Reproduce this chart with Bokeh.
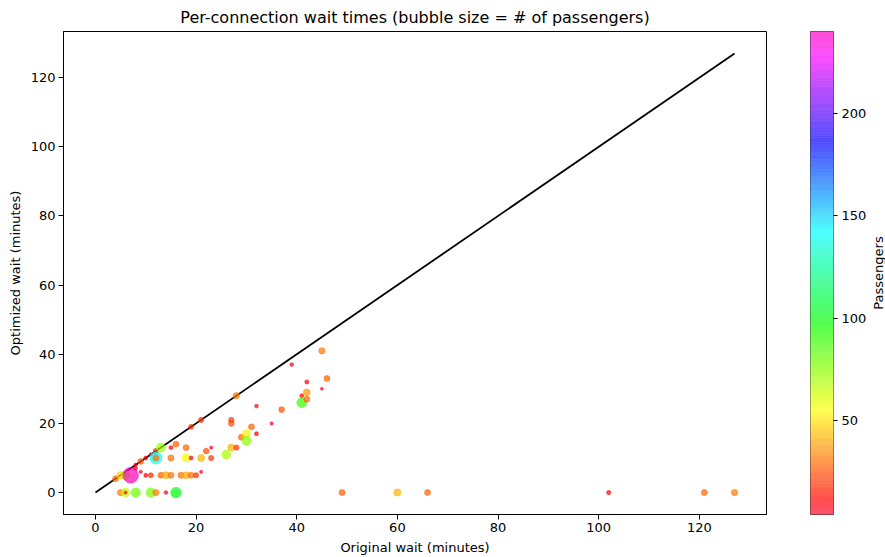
import numpy as np
from bokeh.plotting import figure
from bokeh.layouts import row
from bokeh.models import (ColumnDataSource, LinearColorMapper, FixedTicker, Range1d)
from bokeh.embed import file_html
from bokeh.resources import INLINE

# ---------------- data ----------------
orig_wait = [5, 6, 6, 8, 11, 12, 14, 16, 49, 60, 66, 102, 121, 127,
             4, 5, 6, 7, 9, 10, 11, 13, 14, 15, 17, 18, 19, 20, 21,
             8, 8, 9, 10, 11, 12, 13, 12, 12,
             15, 16, 18, 15, 18, 19, 21, 23, 22, 23,
             19, 21, 26, 27, 28, 27, 27, 28,
             29, 30, 30, 31, 32, 32, 35, 37, 39,
             41, 41, 42, 42, 42, 45, 45, 46]
opt_wait = [0, 0, 0, 0, 0, 0, 0, 0, 0, 0, 0, 0, 0, 0,
            4, 5, 5, 5, 6, 5, 5, 5, 5, 5, 5, 5, 5, 5, 6,
            7, 8, 9, 10, 11, 12, 13, 10, 10,
            13, 14, 13, 10, 10, 10, 10, 10, 12, 13,
            19, 21, 11, 13, 13, 20, 21, 28,
            16, 17, 15, 19, 17, 25, 20, 24, 37,
            28, 26, 27, 29, 32, 30, 41, 33]
passengers = [32, 65, 5, 80, 78, 32, 8, 100, 28, 42, 28, 12, 28, 32,
              30, 48, 70, 240, 6, 10, 18, 28, 40, 30, 30, 40, 30, 20, 5,
              8, 8, 25, 10, 7, 20, 72, 140, 30,
              10, 28, 28, 30, 55, 10, 42, 20, 25, 5,
              18, 20, 70, 42, 20, 25, 22, 32,
              28, 52, 75, 28, 10, 8, 5, 25, 8,
              10, 88, 28, 38, 10, 4, 32, 28]

cbar_ticks = [50, 100, 150, 200]
axis_ticks = [0, 20, 40, 60, 80, 100, 120]

# ---------------- gist_rainbow palette ----------------
seg = [(0.000, (1.00, 0.00, 0.16)), (0.030, (1.00, 0.00, 0.00)),
       (0.215, (1.00, 1.00, 0.00)), (0.400, (0.00, 1.00, 0.00)),
       (0.586, (0.00, 1.00, 1.00)), (0.770, (0.00, 0.00, 1.00)),
       (0.954, (1.00, 0.00, 1.00)), (1.000, (1.00, 0.00, 0.75))]
pos = [s[0] for s in seg]
tt = np.linspace(0, 1, 256)
rr = np.interp(tt, pos, [s[1][0] for s in seg])
gg = np.interp(tt, pos, [s[1][1] for s in seg])
bb = np.interp(tt, pos, [s[1][2] for s in seg])
palette = ["#%02x%02x%02x" % (int(round(a * 255)), int(round(b * 255)), int(round(c * 255)))
           for a, b, c in zip(rr, gg, bb)]
ALPHA = 0.7
# same colours pre-blended on white (for the opaque colour bar strip)
palette_bar = ["#%02x%02x%02x" % tuple(int(round((ALPHA * v + (1 - ALPHA)) * 255)) for v in (a, b, c))
               for a, b, c in zip(rr, gg, bb)]

low, high = min(passengers), max(passengers)
mapper = LinearColorMapper(palette=palette, low=low, high=high)

sizes = [1.389 * np.sqrt(0.45 * p) + 1.0 for p in passengers]
src = ColumnDataSource(dict(x=orig_wait, y=opt_wait, p=passengers, s=sizes))

lim = max(max(orig_wait), max(opt_wait))
pad = lim * 0.05

FONT = "DejaVu Sans"

# ---------------- main scatter ----------------
p = figure(width=810, height=557, output_backend="svg", toolbar_location=None,
           x_range=Range1d(-pad, lim + pad), y_range=Range1d(-pad, lim + pad),
           min_border_left=63, min_border_right=44, min_border_top=31, min_border_bottom=39,
           title="Per-connection wait times (bubble size = # of passengers)")

p.title.align = "center"
p.title.text_font = FONT
p.title.text_font_size = "16px"
p.title.text_font_style = "normal"
p.title.text_color = "black"

p.xgrid.visible = False
p.ygrid.visible = False
p.outline_line_color = "black"
p.outline_line_width = 1
p.background_fill_color = "white"
p.border_fill_color = "white"

for ax in (p.xaxis[0], p.yaxis[0]):
    ax.ticker = FixedTicker(ticks=axis_ticks)
    ax.major_tick_in = 0
    ax.major_tick_out = 5
    ax.minor_tick_line_color = None
    ax.axis_line_color = "black"
    ax.major_tick_line_color = "black"
    ax.major_label_text_font = FONT
    ax.major_label_text_font_size = "13px"
    ax.major_label_text_color = "black"
    ax.axis_label_text_font = FONT
    ax.axis_label_text_font_size = "13px"
    ax.axis_label_text_font_style = "normal"
    ax.axis_label_text_color = "black"
    ax.major_label_standoff = 3
    ax.axis_label_standoff = 5

p.xaxis.axis_label = "Original wait (minutes)"
p.yaxis.axis_label = "Optimized wait (minutes)"

p.line([0, lim], [0, lim], line_color="black", line_width=1.8)

p.scatter("x", "y", source=src, size="s",
          fill_color={"field": "p", "transform": mapper}, fill_alpha=ALPHA,
          line_color={"field": "p", "transform": mapper}, line_alpha=ALPHA, line_width=0.8)

# ---------------- colour bar (own small figure) ----------------
edges = np.linspace(low, high, len(palette) + 1)
pc = figure(width=59, height=557, output_backend="svg", toolbar_location=None,
            x_range=Range1d(0, 1), y_range=Range1d(low, high),
            x_axis_location=None, y_axis_location="right",
            min_border_left=0, min_border_right=35, min_border_top=31, min_border_bottom=39)
pc.quad(left=0, right=1, bottom=edges[:-1], top=edges[1:], fill_color=palette_bar,
        line_color=palette_bar, line_width=0.6)
pc.xgrid.visible = False
pc.ygrid.visible = False
pc.outline_line_color = "#333333"
pc.outline_line_width = 1
pc.border_fill_color = "white"
cax = pc.yaxis[0]
cax.ticker = FixedTicker(ticks=cbar_ticks)
cax.major_tick_in = 0
cax.major_tick_out = 4
cax.minor_tick_line_color = None
cax.axis_line_color = None
cax.major_tick_line_color = "black"
cax.major_label_text_font = FONT
cax.major_label_text_font_size = "13px"
cax.major_label_text_color = "black"
cax.major_label_standoff = 4

# ---------------- colour bar label ----------------
pl = figure(width=16, height=557, output_backend="svg", toolbar_location=None,
            x_range=Range1d(0, 1), y_range=Range1d(0, 1), x_axis_location=None,
            min_border_left=15, min_border_right=0, min_border_top=31, min_border_bottom=39)
pl.xgrid.visible = False
pl.ygrid.visible = False
pl.outline_line_color = None
pl.border_fill_color = "white"
lax = pl.yaxis[0]
lax.ticker = FixedTicker(ticks=[])
lax.axis_line_color = None
lax.major_tick_line_color = None
lax.minor_tick_line_color = None
lax.major_tick_in = 0
lax.major_tick_out = 0
lax.major_label_standoff = 0
lax.major_label_text_font_size = "0px"
lax.axis_label = "Passengers"
lax.axis_label_standoff = 0
lax.axis_label_text_font = FONT
lax.axis_label_text_font_size = "13px"
lax.axis_label_text_font_style = "normal"
lax.axis_label_text_color = "black"

layout = row(p, pc, pl)
open("out.html", "w").write(file_html(layout, INLINE))
